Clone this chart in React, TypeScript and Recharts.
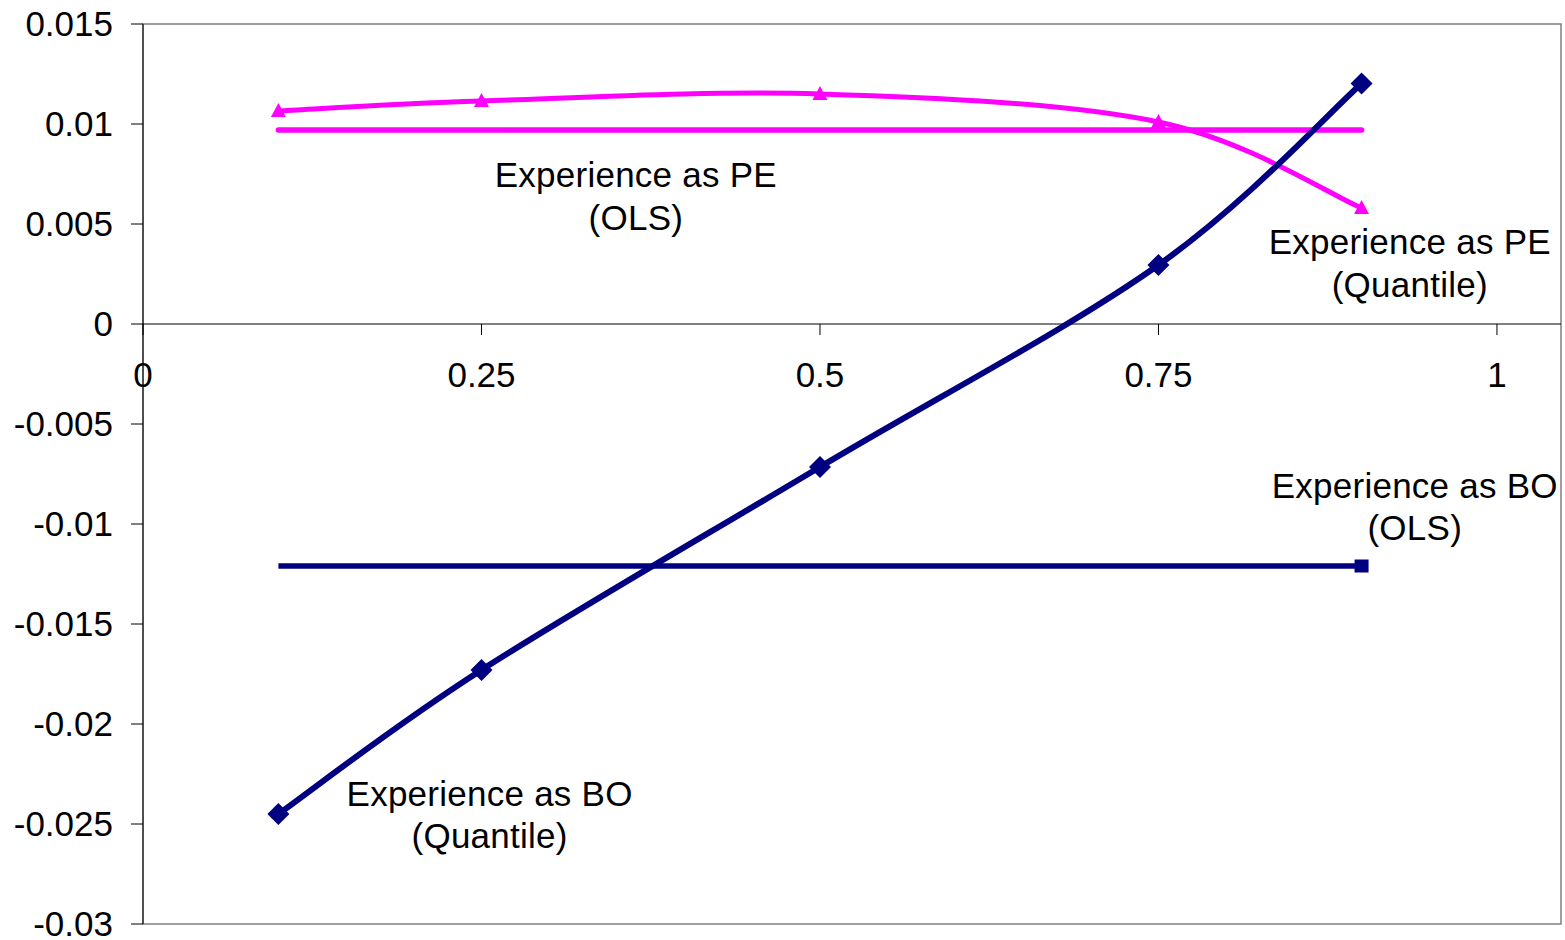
import React from "react";
import {
  LineChart,
  Line,
  XAxis,
  YAxis,
  ReferenceLine,
  ReferenceDot,
  ReferenceArea,
} from "recharts";

// quantile estimates (x = quantile)
const quantiles = [0.1, 0.25, 0.5, 0.75, 0.9];
const peQuantile = [0.01065, 0.01115, 0.0115, 0.0101, 0.0058];
const boQuantile = [-0.0245, -0.0173, -0.00715, 0.00295, 0.01203];

// OLS estimates drawn as flat lines across the quantile range
const olsRange = [0.1, 0.9];
const peOls = [0.0097, 0.0097];
const boOls = [-0.0121, -0.0121];

const xTicks = [0, 0.25, 0.5, 0.75, 1];
const xTickLabels = ["0", "0.25", "0.5", "0.75", "1"];
const yTicks = [0.015, 0.01, 0.005, 0, -0.005, -0.01, -0.015, -0.02, -0.025, -0.03];
const yTickLabels = ["0.015", "0.01", "0.005", "0", "-0.005", "-0.01", "-0.015", "-0.02", "-0.025", "-0.03"];

const seriesLabels = [
  { lines: ["Experience as PE", "(OLS)"], x: 0.364, y: 0.00684 },
  { lines: ["Experience as PE", "(Quantile)"], x: 0.9356, y: 0.0035 },
  { lines: ["Experience as BO", "(OLS)"], x: 0.9393, y: -0.00868 },
  { lines: ["Experience as BO", "(Quantile)"], x: 0.256, y: -0.02409 },
];

const X_MAX = 1.0473;
const FONT = "'Liberation Sans', Arial, Helvetica, sans-serif";
const NAVY = "#000080";
const MAGENTA = "#FF00FF";

const toPoints = (xs: number[], ys: number[]) => xs.map((x, i) => ({ x, y: ys[i] }));

const peQuantileData = toPoints(quantiles, peQuantile);
const boQuantileData = toPoints(quantiles, boQuantile);
const peOlsData = toPoints(olsRange, peOls);
const boOlsData = toPoints(olsRange, boOls);

// Excel-style smoothing: Bezier segments with Catmull-Rom control points (1/6 of neighbour span)
function excelSmooth(context: any) {
  let pts: number[][] = [];
  return {
    areaStart() {},
    areaEnd() {},
    lineStart() {
      pts = [];
    },
    point(x: number, y: number) {
      pts.push([+x, +y]);
    },
    lineEnd() {
      const n = pts.length;
      if (!n) return;
      context.moveTo(pts[0][0], pts[0][1]);
      for (let i = 0; i < n - 1; i++) {
        const p0 = pts[Math.max(i - 1, 0)];
        const p1 = pts[i];
        const p2 = pts[i + 1];
        const p3 = pts[Math.min(i + 2, n - 1)];
        context.bezierCurveTo(
          p1[0] + (p2[0] - p0[0]) / 6,
          p1[1] + (p2[1] - p0[1]) / 6,
          p2[0] - (p3[0] - p1[0]) / 6,
          p2[1] - (p3[1] - p1[1]) / 6,
          p2[0],
          p2[1]
        );
      }
    },
  };
}

const triangleDot = (props: any) => {
  const { cx, cy, index } = props;
  return (
    <polygon
      key={`tri-${index}`}
      points={`${cx},${cy - 8} ${cx - 7.5},${cy + 6} ${cx + 7.5},${cy + 6}`}
      fill={MAGENTA}
    />
  );
};

const diamondDot = (props: any) => {
  const { cx, cy, index } = props;
  const r = 11;
  return (
    <polygon
      key={`dia-${index}`}
      points={`${cx},${cy - r} ${cx + r},${cy} ${cx},${cy + r} ${cx - r},${cy}`}
      fill={NAVY}
    />
  );
};

// only the last OLS point shows its marker in the original
const lastSquareDot = (props: any) => {
  const { cx, cy, index } = props;
  if (index !== boOlsData.length - 1) return <g key={`sq-${index}`} />;
  return <rect key={`sq-${index}`} x={cx - 7} y={cy - 6.5} width={14} height={13} fill={NAVY} />;
};

const xTickShape = (label: string) => (props: any) => {
  const { cx, cy } = props;
  return (
    <g>
      <line x1={cx} y1={cy} x2={cx} y2={cy + 11} stroke="#000" strokeWidth={1} />
      <text x={cx} y={cy + 63} textAnchor="middle" fontSize={35} fontFamily={FONT} fill="#000">
        {label}
      </text>
    </g>
  );
};

const labelShape = (lines: string[]) => (props: any) => {
  const { cx, cy } = props;
  return (
    <text textAnchor="middle" fontSize={35} letterSpacing={0.25} fontFamily={FONT} fill="#000">
      {lines.map((l, i) => (
        <tspan key={i} x={cx} y={cy + i * 42.5}>
          {l}
        </tspan>
      ))}
    </text>
  );
};

export default function App() {
  return (
    <div style={{ position: "absolute", left: 0, top: 0, background: "#fff" }}>
      <LineChart width={1565} height={940} margin={{ top: 24, right: 4, bottom: 16, left: 0 }}>
        <XAxis dataKey="x" type="number" domain={[0, X_MAX]} hide allowDataOverflow />
        <YAxis
          type="number"
          domain={[-0.03, 0.015]}
          ticks={yTicks}
          interval={0}
          width={143}
          tickSize={12}
          tickMargin={18}
          axisLine={{ stroke: "#000", strokeWidth: 1 }}
          tickLine={{ stroke: "#000", strokeWidth: 1 }}
          tick={{ fontSize: 35, fontFamily: FONT, fill: "#000" }}
          tickFormatter={(v: number) => yTickLabels[yTicks.findIndex((t) => Math.abs(t - v) < 1e-9)] ?? String(v)}
          allowDataOverflow
        />
        <ReferenceArea
          x1={0}
          x2={X_MAX}
          y1={-0.03}
          y2={0.015}
          fill="none"
          stroke="#808080"
          strokeWidth={1.5}
          ifOverflow="extendDomain"
        />
        <ReferenceLine y={0} stroke="#000" strokeWidth={1} />
        {xTicks.map((t, i) => (
          <ReferenceDot key={`xt-${t}`} x={t} y={0} r={0} shape={xTickShape(xTickLabels[i])} ifOverflow="visible" />
        ))}
        <Line
          data={peOlsData}
          dataKey="y"
          type="linear"
          stroke={MAGENTA}
          strokeWidth={5.5}
          strokeLinecap="round"
          dot={false}
          isAnimationActive={false}
        />
        <Line
          data={boOlsData}
          dataKey="y"
          type="linear"
          stroke={NAVY}
          strokeWidth={5.5}
          dot={lastSquareDot}
          isAnimationActive={false}
        />
        <Line
          data={peQuantileData}
          dataKey="y"
          type={excelSmooth as any}
          stroke={MAGENTA}
          strokeWidth={5}
          dot={triangleDot}
          isAnimationActive={false}
        />
        <Line
          data={boQuantileData}
          dataKey="y"
          type={excelSmooth as any}
          stroke={NAVY}
          strokeWidth={6}
          dot={diamondDot}
          isAnimationActive={false}
        />
        {seriesLabels.map((s) => (
          <ReferenceDot key={s.lines.join("-")} x={s.x} y={s.y} r={0} shape={labelShape(s.lines)} ifOverflow="visible" />
        ))}
      </LineChart>
    </div>
  );
}
